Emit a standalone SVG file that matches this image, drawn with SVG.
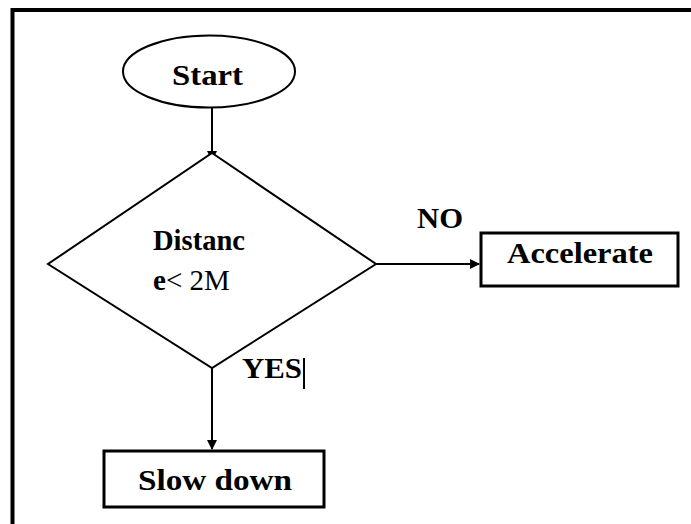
<svg xmlns="http://www.w3.org/2000/svg" width="691" height="524" viewBox="0 0 691 524">
  <style>
    .lbl { font-family: "Liberation Serif", "Times New Roman", serif; font-size: 29px; font-weight: bold; fill: #000; }
    .reg { font-weight: normal; }
    .shape { fill: #fff; stroke: #000; }
    .conn { stroke: #000; stroke-width: 2; fill: none; }
  </style>
  <defs>
    <marker id="arrow" viewBox="0 0 10 10" refX="9" refY="5" markerWidth="5" markerHeight="5" orient="auto" markerUnits="strokeWidth">
      <path d="M0,0 L10,5 L0,10 z" fill="#000"/>
    </marker>
  </defs>

  <rect width="691" height="524" fill="#fff"/>

  <!-- frame: top and left edges -->
  <path d="M12.5,524 V10 H691" fill="none" stroke="#000" stroke-width="4"/>

  <g id="connectors">
    <line class="conn" x1="212" y1="108" x2="212" y2="160" marker-end="url(#arrow)"/>
    <line class="conn" x1="376" y1="264" x2="479" y2="264" marker-end="url(#arrow)"/>
    <line class="conn" x1="212" y1="368" x2="212" y2="449" marker-end="url(#arrow)"/>
  </g>

  <g id="start">
    <ellipse class="shape" cx="209" cy="71.5" rx="86" ry="36" stroke-width="2"/>
    <text class="lbl" x="172" y="85" textLength="71" lengthAdjust="spacingAndGlyphs">Start</text>
  </g>

  <g id="decision">
    <polygon class="shape" points="212,153 376,264 212,368 48,264" stroke-width="2"/>
    <text class="lbl" x="153" y="250" textLength="92" lengthAdjust="spacingAndGlyphs">Distanc</text>
    <text class="lbl" x="153" y="290">e<tspan class="reg">&lt; 2M</tspan></text>
  </g>

  <g id="label-no">
    <text class="lbl" x="417" y="228" textLength="46" lengthAdjust="spacingAndGlyphs">NO</text>
  </g>

  <g id="label-yes">
    <text class="lbl" x="242" y="378" textLength="60" lengthAdjust="spacingAndGlyphs">YES</text>
    <line x1="304" y1="358" x2="304" y2="389" stroke="#000" stroke-width="2"/>
  </g>

  <g id="accelerate">
    <rect class="shape" x="481" y="233" width="197" height="53" stroke-width="3"/>
    <text class="lbl" x="507" y="263" textLength="146" lengthAdjust="spacingAndGlyphs">Accelerate</text>
  </g>

  <g id="slow-down">
    <rect class="shape" x="104" y="451" width="220" height="56" stroke-width="3"/>
    <text class="lbl" x="138" y="490" textLength="154" lengthAdjust="spacingAndGlyphs">Slow down</text>
  </g>
</svg>
